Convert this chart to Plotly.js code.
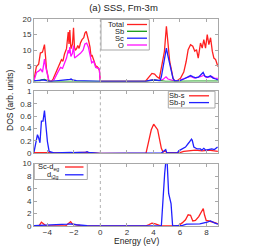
<!DOCTYPE html>
<html><head><meta charset="utf-8">
<script src="https://cdn.plot.ly/plotly-3.0.1.min.js"></script>
<style>html,body{margin:0;padding:0;background:#fff}#c{width:267px;height:250px}</style>
</head><body><div id="c"></div>
<script>
// ---- Panel 1: Total / Sb / Sc / O ----
const eTotal = [-5,-4.9,-4.82,-4.65,-4.52,-4.36,-4.21,-4.13,-4.06,-3.88,-3.69,-3.56,-3.36,-3.18,-3.05,-2.93,-2.82,-2.7,-2.55,-2.42,-2.36,-2.3,-2.22,-2.1,-2.02,-1.95,-1.88,-1.79,-1.7,-1.6,-1.5,-1.38,-1.25,-1.16,-1.06,-0.98,-0.88,-0.78,-0.7,-0.63,-0.55,-0.45,-0.35,-0.25,-0.15,-0.07,-0.02,0,3.39,3.64,3.89,4.09,4.27,4.45,4.65,4.83,4.98,5.1,5.23,5.36,5.48,5.6,5.79,6.04,6.29,6.47,6.62,6.8,6.97,7.12,7.25,7.38,7.55,7.68,7.8,7.93,8.06,8.18,8.31,8.44,8.56,8.69,8.86];
const total  = [0.5,3,4.8,5.5,9.1,9.4,11.8,8,4,0.3,0,0.8,2.8,4.5,5.5,7,6.5,8.8,10.5,15.8,12,16.5,10.5,12,17.2,11,10,10.5,11.5,10.6,12.3,13.4,14,15.5,16,15,13,11,8,8.5,7.5,6.2,5,4.8,4.3,3.5,0.3,0,0,1.5,2.6,2.4,1.5,1,5.3,9.6,17.7,11.2,6.4,3.7,1,0.2,0.2,1,3,6.4,10.2,11.8,11.3,9.7,10.2,7.5,12.3,10.7,13.4,10.7,15,11.8,14,9.7,7.5,7,4.8];
const eO = [-5,-4.9,-4.8,-4.65,-4.5,-4.36,-4.21,-4.13,-4.0,-3.88,-3.69,-3.5,-3.2,-3.0,-2.85,-2.7,-2.55,-2.42,-2.36,-2.3,-2.22,-2.1,-2.02,-1.94,-1.85,-1.7,-1.5,-1.3,-1.16,-1.03,-0.9,-0.78,-0.65,-0.5,-0.35,-0.2,-0.07,-0.02,0,3.4,3.7,4.0,4.4,4.7,4.95,5.1,5.5,5.9,6.2,6.5,6.8,7.1,7.4,7.6,7.8,8.0,8.2,8.4,8.6,8.86];
const oxy = [0.3,2,3,3.3,4,3,7.2,5,2,0.2,0,0.5,3,4.5,4.2,6,7.5,10,9,11,8,9,11.5,7.5,7.8,8.5,9,10,12,12.3,11,8.5,6,6.5,4.5,4.3,4,0.3,0,0,0.4,0.6,0.3,0.6,1.5,0.8,0.3,0.3,0.8,1.2,1.6,1.1,1.3,1.6,2.0,1.3,1.5,1.6,1.1,1.0];
const eSc = [-5,-4.7,-4.5,-4.3,-4.1,-3.9,-3.5,-3.0,-2.5,-2.3,-2.2,-2.1,-1.8,-1.0,-0.5,0,3.4,3.6,4.0,4.3,4.5,4.6,4.7,4.83,4.98,5.08,5.23,5.36,5.48,5.6,6.0,6.3,6.6,6.8,7.0,7.2,7.4,7.6,7.75,7.9,8.1,8.3,8.5,8.7,8.86];
const sc  = [0.2,0.4,0.6,0.5,0.3,0,0.1,0.3,0.4,0.7,0.8,0.5,0.3,0.2,0.2,0,0,0.3,0.5,0.4,0.3,1.5,4,6.4,10.7,8.5,5.3,3,1,0.2,0.3,0.8,1.4,1.9,1.5,1.2,1.4,2.2,2.9,1.6,1.4,1.8,1.1,0.8,0.5];
const eSb = [-5,-4.74,-4.55,-4.44,-4.21,-4.0,-3.86,-2.2,-1.0,0,3.44,4.02,4.45,4.73,4.93,5.5,6.42,6.8,7.05,7.8,8.86];
const sb  = [0.05,0.3,0.2,0.55,0.7,0.2,0.03,0.05,0.05,0,0,0.47,0.25,0.05,0.07,0.01,0.14,0.27,0.15,0.12,0.13];

// ---- Panel 2: Sb-s / Sb-p ----
const eSbs = [-5,-4.5,-4.0,-3.0,-2.2,-1.0,0,3.44,3.64,3.84,4.02,4.2,4.32,4.45,4.6,4.73,4.9,5.0,5.5,6.0,6.29,6.67,7.17,7.67,8.18,8.86];
const sbs  = [0.01,0.015,0.01,0.005,0.01,0.015,0,0,0.19,0.38,0.47,0.42,0.38,0.24,0.08,0.02,0.04,0.01,0.005,0.01,0.03,0.04,0.05,0.04,0.05,0.03];
const eSbp = [-5,-4.87,-4.74,-4.65,-4.55,-4.44,-4.32,-4.21,-4.11,-3.99,-3.86,-3.5,-2.2,-2.1,-1.1,-1.0,-0.9,0,4.6,4.85,4.93,5.0,5.8,5.91,6.16,6.42,6.67,6.87,6.93,7.05,7.3,7.55,7.65,7.8,7.95,8.18,8.4,8.6,8.84];
const sbp  = [0.02,0.19,0.30,0.25,0.17,0.52,0.52,0.69,0.46,0.19,0.03,0.005,0.015,0.01,0.02,0.025,0.015,0,0.005,0.04,0.06,0.01,0.005,0.04,0.07,0.1,0.17,0.23,0.21,0.1,0.07,0.07,0.05,0.08,0.05,0.06,0.07,0.06,0.1];

// ---- Panel 3: Sc-d eg / t2g ----
const eEg = [-5,-4.6,-4.44,-4.3,-4.1,-3.5,-2.6,-2.24,-2.1,-1.5,0,3.4,3.64,3.89,4.15,4.4,4.6,5.7,5.91,6.17,6.42,6.62,6.8,6.97,7.17,7.42,7.68,7.76,7.85,7.98,8.18,8.4,8.69,8.86];
const eg  = [0.05,0.1,0.6,0.4,0.05,0.02,0.05,0.7,0.3,0.05,0,0,0.2,0.45,0.35,0.1,0,0,0.1,0.5,1.0,1.8,1.7,0.8,0.9,1.5,2.4,2.8,1.8,0.9,0.8,0.7,0.5,0.35];
const eT2g = [-5,-4.5,-3.5,-3.0,-2.5,-2.2,-1.8,-1.0,0,4.6,4.7,4.85,4.95,5.03,5.15,5.25,5.33,5.45,6.2,6.5,7.0,7.5,8.06,8.3,8.6,8.86];
const t2g  = [0.05,0.1,0.1,0.25,0.3,0.35,0.2,0.05,0,0,4.1,8.4,10.6,10.5,5.2,4.4,3.6,0,0.1,0.3,0.3,0.35,0.6,0.8,0.5,0.3];

const RED='#ff2020', GREEN='#159a15', BLUE='#2020ff', MAG='#ff10ff';
const L = 34, R = 218, T = 19, B = 226;
const px = v => (v - L) / (R - L);
const py = v => (B - v) / (B - T);

function tr(x, y, color, xa, ya) {
  return {x, y, type:'scatter', mode:'lines', xaxis:xa, yaxis:ya,
          line:{color, width:1.3}, showlegend:false, hoverinfo:'skip'};
}
const data = [
  tr(eTotal,total,RED,'x','y'), tr(eO,oxy,MAG,'x','y'), tr(eSb,sb,GREEN,'x','y'), tr(eSc,sc,BLUE,'x','y'),
  tr(eSbs,sbs,RED,'x2','y2'), tr(eSbp,sbp,BLUE,'x2','y2'),
  tr(eEg,eg,RED,'x3','y3'), tr(eT2g,t2g,BLUE,'x3','y3')
];

const FONT = 'Liberation Sans, Arial, sans-serif';
const axBase = {showline:true, linecolor:'#a8a8a8', linewidth:1, mirror:'ticks', ticks:'inside', ticklen:3,
  tickcolor:'#a8a8a8', showgrid:false, zeroline:false, tickfont:{size:8, color:'#333', family:FONT}, fixedrange:true};
const xr = [-5, 8.87];
const layout = {
  width:267, height:250, margin:{l:L, r:267-R, t:T, b:250-B}, paper_bgcolor:'#fff', plot_bgcolor:'#fff',
  font:{family:FONT, size:8, color:'#333'},
  title:{text:'(a) SSS, Fm-3m', x:px(123.5), xref:'paper', xanchor:'center', y:1-8/250, yanchor:'middle', font:{size:9.5, color:'#222', family:FONT}},
  xaxis:Object.assign({}, axBase, {anchor:'y', range:xr, dtick:2, showticklabels:false}),
  xaxis2:Object.assign({}, axBase, {anchor:'y2', range:xr, dtick:2, showticklabels:false}),
  xaxis3:Object.assign({}, axBase, {anchor:'y3', range:xr, dtick:2, tickvals:[-4,-2,0,2,4,6,8], ticklabelstandoff:-2}),
  yaxis:Object.assign({}, axBase, {anchor:'x', domain:[py(81.5), 1], range:[0,20], dtick:5}),
  yaxis2:Object.assign({}, axBase, {anchor:'x2', domain:[py(153.3), py(91.3)], range:[0,1], dtick:0.2}),
  yaxis3:Object.assign({}, axBase, {anchor:'x3', domain:[0, py(163.5)], range:[0,10], dtick:2}),
  shapes:[], annotations:[]
};
// zero-energy dotted lines
[['x','y'],['x2','y2'],['x3','y3']].forEach(([xa,ya]) => {
  layout.shapes.push({type:'line', xref:xa, yref:ya+' domain', x0:0, x1:0, y0:0, y1:1, line:{color:'#b0b0b0', width:1, dash:'dot'}});
});
// custom gnuplot-style legends
function legend(box, entries, textRight, lx0, lx1) {
  layout.shapes.push({type:'rect', xref:'paper', yref:'paper', x0:px(box[0]), x1:px(box[1]), y0:py(box[3]), y1:py(box[2]),
    line:{color:'#a8a8a8', width:1}, fillcolor:'rgba(255,255,255,1)', layer:'above'});
  entries.forEach(([txt, col, yy]) => {
    layout.annotations.push({text:txt, xref:'paper', yref:'paper', x:px(textRight), y:py(yy), xanchor:'right', yanchor:'middle',
      showarrow:false, borderpad:0, font:{size:7.5, color:'#222', family:FONT}});
    layout.shapes.push({type:'line', xref:'paper', yref:'paper', x0:px(lx0), x1:px(lx1), y0:py(yy), y1:py(yy), line:{color:col, width:1.3}});
  });
}
legend([101,149.3,19.5,50], [['Total',RED,24.5],['Sb',GREEN,31.3],['Sc',BLUE,38.2],['O',MAG,45]], 124.5, 127, 147);
legend([168.3,215,91.3,108], [['Sb-s',RED,95.8],['Sb-p',BLUE,102.6]], 186, 189, 209);
legend([34.3,87.3,163.5,179.5], [['Sc-d<sub>eg</sub>',RED,167],['d<sub>t2g</sub>',BLUE,174.8]], 60, 65, 83.5);
// axis titles
layout.annotations.push({text:'Energy (eV)', xref:'paper', yref:'paper', x:px(136.5), y:py(241), xanchor:'center', yanchor:'middle',
  showarrow:false, borderpad:0, font:{size:8.5, color:'#222', family:FONT}});
layout.annotations.push({text:'DOS (arb. units)', xref:'paper', yref:'paper', x:px(10), y:py(100), xanchor:'center', yanchor:'middle',
  textangle:-90, showarrow:false, borderpad:0, font:{size:8.5, color:'#222', family:FONT}});

Plotly.newPlot('c', data, layout, {staticPlot:true, displayModeBar:false});
</script></body></html>
